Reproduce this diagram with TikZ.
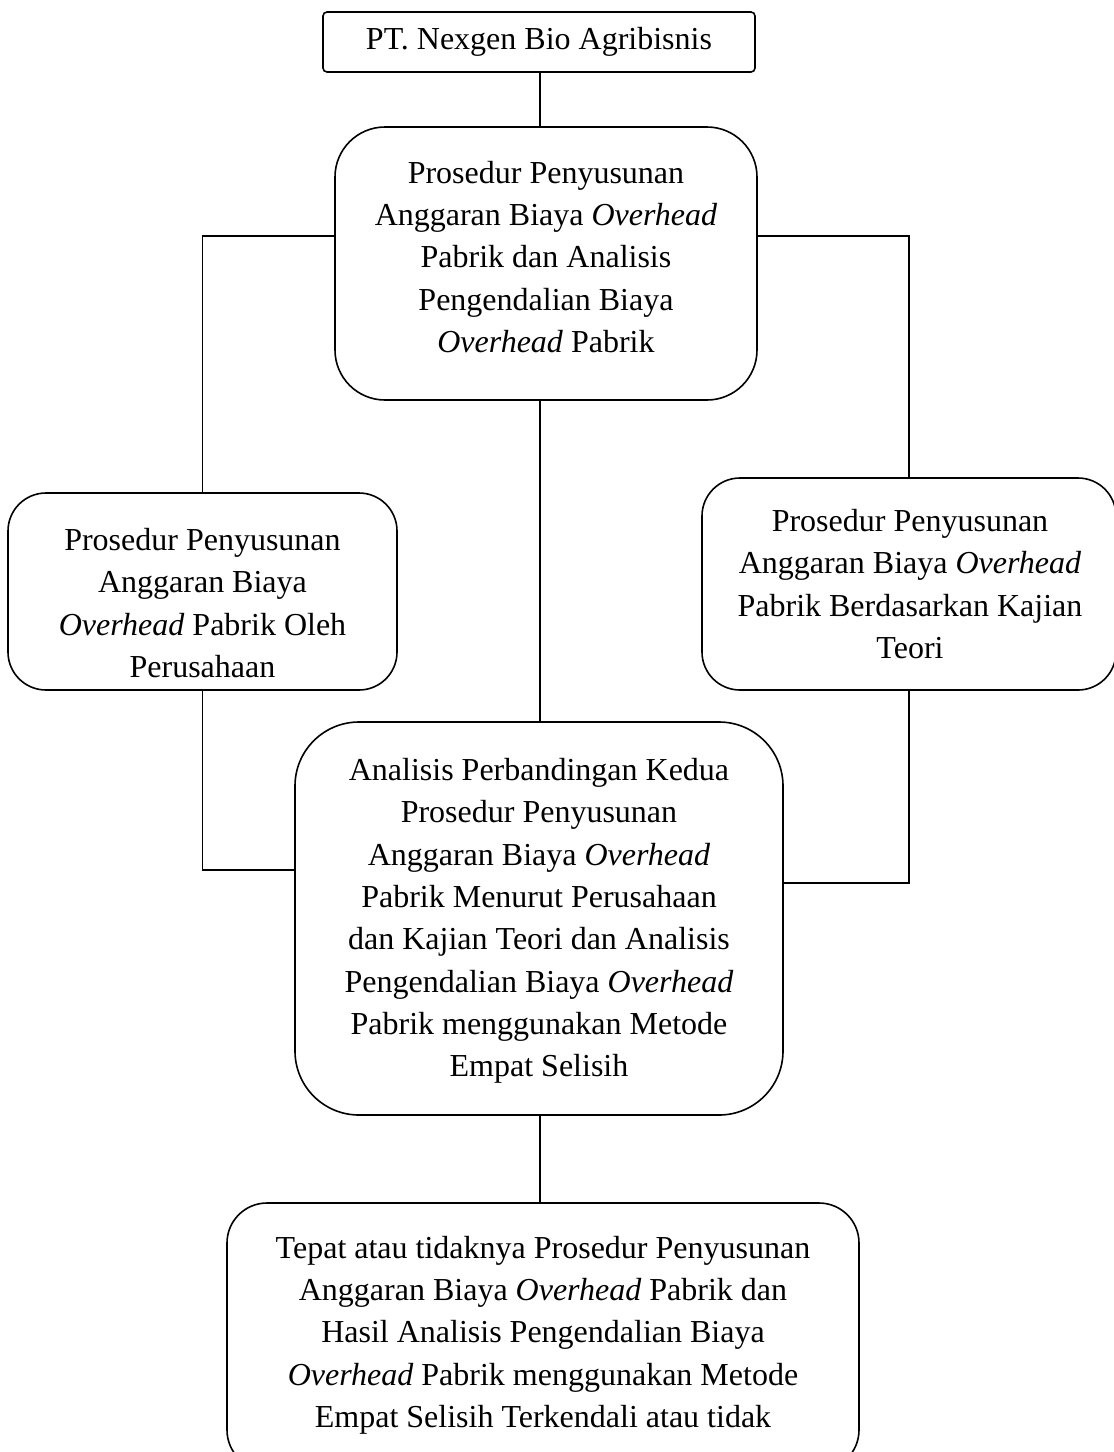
\documentclass[tikz,border=0pt]{standalone}
\usepackage{fontspec}
\setmainfont{Liberation Serif}
\begin{document}
\begin{tikzpicture}[x=1pt,y=-1pt,
  frame/.style={draw, line width=1.6pt, inner sep=0pt},
  txt/.style={align=center, inner sep=0pt, font=\fontsize{32}{42.3}\selectfont},
  conn/.style={line width=1.6pt}]
\useasboundingbox (0,0) rectangle (1114,1452);
% boxes
\node[frame, rounded corners=4pt, minimum width=432pt, minimum height=60pt, font=\fontsize{32}{42}\selectfont] (b1) at (539,42) {PT. Nexgen Bio Agribisnis};
\node[frame, rounded corners=50pt, minimum width=422pt, minimum height=273pt] (b2) at (546,263.5) {};
\node[frame, rounded corners=38pt, minimum width=389pt, minimum height=197pt] (bl) at (202.5,591.5) {};
\node[frame, rounded corners=38pt, minimum width=414pt, minimum height=212pt] (br) at (909,584) {};
\node[frame, rounded corners=64pt, minimum width=488pt, minimum height=393pt] (bm) at (539,918.5) {};
\node[frame, rounded corners=40pt, minimum width=632pt, minimum height=267pt] (bb) at (543,1336.5) {};
% texts
\node[txt] (t2) at (546,257) {Prosedur Penyusunan\\Anggaran Biaya \textit{Overhead}\\Pabrik dan Analisis\\Pengendalian Biaya\\\textit{Overhead} Pabrik};
\node[txt] (tl) at (202.5,603) {Prosedur Penyusunan\\Anggaran Biaya\\\textit{Overhead} Pabrik Oleh\\Perusahaan};
\node[txt] (tr) at (910,584) {Prosedur Penyusunan\\Anggaran Biaya \textit{Overhead}\\Pabrik Berdasarkan Kajian\\Teori};
\node[txt] (tm) at (539,921) {Analisis Perbandingan Kedua\\Prosedur Penyusunan\\Anggaran Biaya \textit{Overhead}\\Pabrik Menurut Perusahaan\\dan Kajian Teori dan Analisis\\Pengendalian Biaya \textit{Overhead}\\Pabrik menggunakan Metode\\Empat Selisih};
\node[txt] (tb) at (543,1335) {Tepat atau tidaknya Prosedur Penyusunan\\Anggaran Biaya \textit{Overhead} Pabrik dan\\Hasil Analisis Pengendalian Biaya\\\textit{Overhead} Pabrik menggunakan Metode\\Empat Selisih Terkendali atau tidak};
% connectors
\draw[conn] ([xshift=1pt]b1.south) -- ([xshift=1pt]b1.south |- b2.north);
\draw[conn] ([yshift=27.5pt]b2.west) -| (bl.north);
\draw[conn] ([yshift=27.5pt]b2.east) -| (br.north);
\draw[conn] ([xshift=1pt]bm.north |- b2.south) -- ([xshift=1pt]bm.north);
\draw[conn] (bl.south) |- ([yshift=48.5pt]bm.west);
\draw[conn] (br.south) |- ([yshift=35.5pt]bm.east);
\draw[conn] ([xshift=1pt]bm.south) -- ([xshift=1pt]bm.south |- bb.north);
\end{tikzpicture}
\end{document}
